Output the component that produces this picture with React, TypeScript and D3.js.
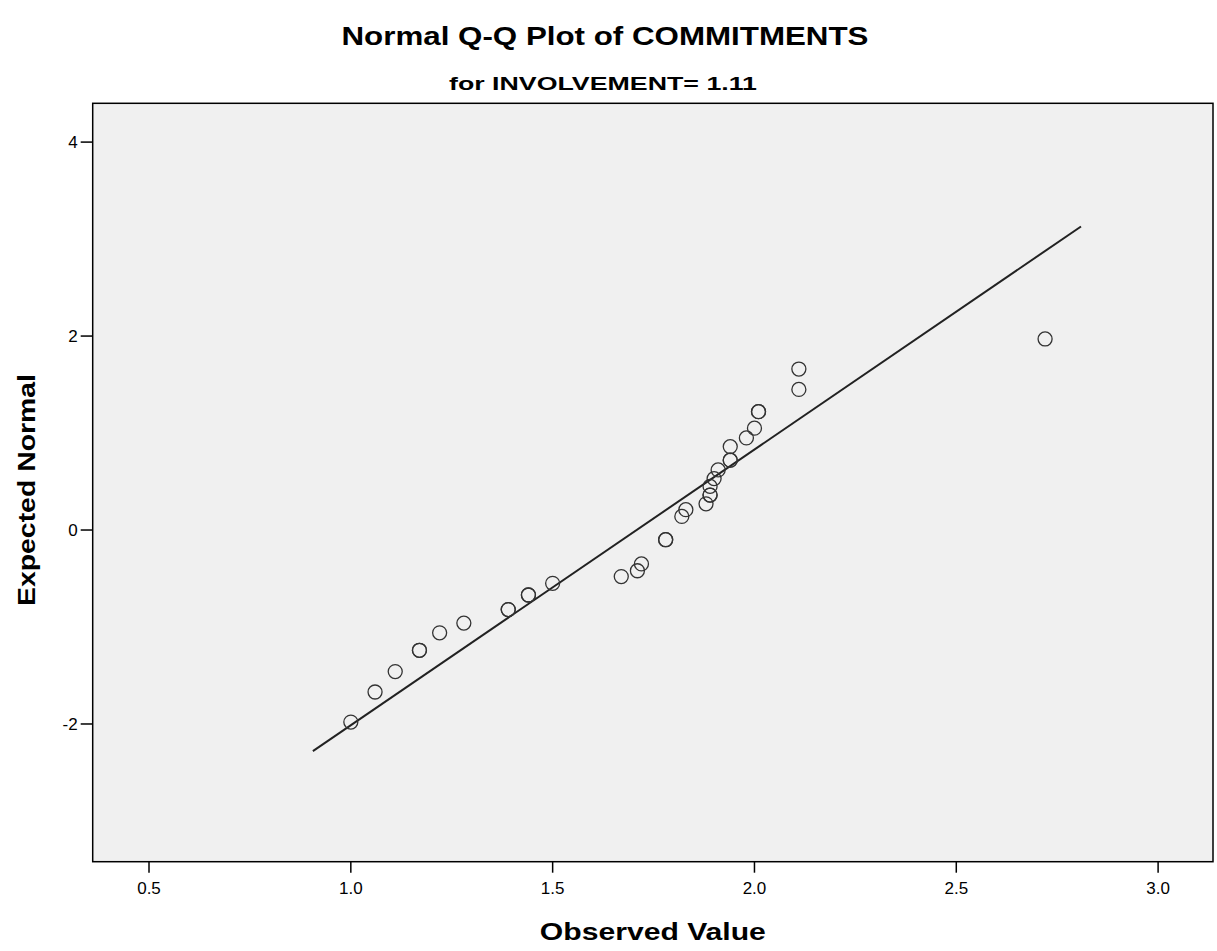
import * as d3 from "d3";

const WIDTH = 1217;
const HEIGHT = 951;

// observed values and their expected normal scores (ties repeated)
const observed = [
  1.0, 1.06, 1.11, 1.17, 1.17, 1.22, 1.28, 1.39, 1.39, 1.44, 1.44, 1.5,
  1.67, 1.71, 1.72, 1.78, 1.78, 1.82, 1.83, 1.88, 1.89, 1.89, 1.89, 1.9,
  1.91, 1.94, 1.94, 1.94, 1.98, 2.0, 2.01, 2.01, 2.11, 2.11, 2.72,
];
const expected = [
  -1.98, -1.67, -1.46, -1.24, -1.24, -1.06, -0.96, -0.82, -0.82, -0.67, -0.67, -0.55,
  -0.48, -0.42, -0.35, -0.1, -0.1, 0.14, 0.21, 0.27, 0.36, 0.36, 0.45, 0.53,
  0.62, 0.72, 0.72, 0.86, 0.95, 1.05, 1.22, 1.22, 1.45, 1.66, 1.97,
];

// reference line endpoints
const lineX = [0.906, 2.809];
const lineY = [-2.28, 3.13];

const xTicks = [0.5, 1.0, 1.5, 2.0, 2.5, 3.0];
const yTicks = [-2, 0, 2, 4];

const FONT = "'Liberation Sans', Arial, sans-serif";

export default function App() {
  const left = 92.7;
  const right = 1213;
  const top = 103.3;
  const bottom = 861.7;

  const x = d3.scaleLinear().domain([0.3605, 3.136]).range([left, right]);
  const y = d3.scaleLinear().domain([-3.42, 4.4]).range([bottom, top]);

  const line = d3
    .line<number>()
    .x((d, i) => x(lineX[i]))
    .y((d) => y(d));

  return (
    <svg
      width={WIDTH}
      height={HEIGHT}
      style={{ position: "absolute", left: 0, top: 0, background: "#fff" }}
      fontFamily={FONT}
    >
      {/* titles */}
      <text
        x={605}
        y={45}
        textAnchor="middle"
        fontSize={26}
        fontWeight="bold"
        textLength={527}
        lengthAdjust="spacingAndGlyphs"
      >
        Normal Q-Q Plot of COMMITMENTS
      </text>
      <text
        x={603}
        y={90}
        textAnchor="middle"
        fontSize={19}
        fontWeight="bold"
        textLength={308}
        lengthAdjust="spacingAndGlyphs"
      >
        for INVOLVEMENT= 1.11
      </text>

      {/* plot area */}
      <rect x={left} y={top} width={right - left} height={bottom - top} fill="#f0f0f0" />

      {/* reference line */}
      <path d={line(lineY) || ""} fill="none" stroke="#222" strokeWidth={2} />

      {/* points */}
      {observed.map((v, i) => (
        <circle
          key={i}
          cx={x(v)}
          cy={y(expected[i])}
          r={7}
          fill="none"
          stroke="#333"
          strokeWidth={1.3}
        />
      ))}

      <rect
        x={left}
        y={top}
        width={right - left}
        height={bottom - top}
        fill="none"
        stroke="#000"
        strokeWidth={1.5}
      />

      {/* x axis */}
      {xTicks.map((t) => (
        <g key={t} transform={`translate(${x(t)},${bottom})`}>
          <line y1={0} y2={11} stroke="#000" strokeWidth={1.5} />
          <text y={32} textAnchor="middle" fontSize={17}>
            {t.toFixed(1)}
          </text>
        </g>
      ))}

      {/* y axis */}
      {yTicks.map((t) => (
        <g key={t} transform={`translate(${left},${y(t)})`}>
          <line x1={-12} x2={0} stroke="#000" strokeWidth={1.5} />
          <text x={-15} dy="0.35em" textAnchor="end" fontSize={17}>
            {t}
          </text>
        </g>
      ))}

      <text
        x={(left + right) / 2}
        y={940}
        textAnchor="middle"
        fontSize={23}
        fontWeight="bold"
        textLength={226}
        lengthAdjust="spacingAndGlyphs"
      >
        Observed Value
      </text>
      <text
        transform={`translate(35,490) rotate(-90)`}
        textAnchor="middle"
        fontSize={23}
        fontWeight="bold"
        textLength={232}
        lengthAdjust="spacingAndGlyphs"
      >
        Expected Normal
      </text>
    </svg>
  );
}
